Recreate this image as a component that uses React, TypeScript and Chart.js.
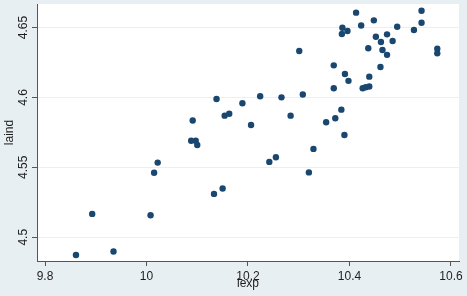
import React, { useEffect, useRef } from "react";
import { Chart, registerables } from "chart.js";

Chart.register(...registerables);

const lexp = [
  9.861, 9.893, 9.935, 10.008, 10.015, 10.022, 10.091, 10.088, 10.097, 10.1,
  10.133, 10.15, 10.154, 10.163, 10.189, 10.206, 10.242, 10.138, 10.224, 10.266,
  10.284, 10.301, 10.308, 10.329, 10.255, 10.32, 10.369, 10.391, 10.398, 10.369,
  10.384, 10.372, 10.354, 10.39, 10.413, 10.542, 10.386, 10.385, 10.396, 10.423,
  10.448, 10.494, 10.542, 10.527, 10.452, 10.474, 10.462, 10.485, 10.437, 10.465,
  10.474, 10.573, 10.573, 10.461, 10.439, 10.426, 10.432, 10.439,
];
const laind = [
  4.4873, 4.5167, 4.4898, 4.5157, 4.5461, 4.5534, 4.5835, 4.5691, 4.5691, 4.566,
  4.531, 4.5349, 4.587, 4.5884, 4.5959, 4.5803, 4.5539, 4.5989, 4.6009, 4.6001,
  4.587, 4.6333, 4.6021, 4.5632, 4.5572, 4.5464, 4.623, 4.6168, 4.6119, 4.6066,
  4.5913, 4.5852, 4.5823, 4.5732, 4.6607, 4.6621, 4.6499, 4.6454, 4.6476, 4.6515,
  4.6552, 4.6506, 4.6535, 4.6483, 4.6435, 4.6452, 4.6397, 4.6404, 4.6352, 4.634,
  4.6305, 4.6349, 4.6316, 4.6218, 4.6149, 4.6066, 4.6073, 4.6079,
];
const xTicks = [9.8, 10, 10.2, 10.4, 10.6];
const yTicks = [4.5, 4.55, 4.6, 4.65];
const xLabel = "lexp";
const yLabel = "laind";

const OUTER = "#e8eff2";
const GRID = "#e9f0f3";
const AXIS = "#555555";
const TEXT = "#1e1e1e";
const MARK = "#1a476f";
const FONT = "'Liberation Sans', Arial, sans-serif";

export default function App() {
  const ref = useRef<HTMLCanvasElement>(null);

  useEffect(() => {
    if (!ref.current) return;
    const bgPlugin = {
      id: "bgPlugin",
      beforeDraw(chart: any) {
        const { ctx, chartArea: a, width, height } = chart;
        ctx.save();
        ctx.fillStyle = OUTER;
        ctx.fillRect(0, 0, width, height);
        ctx.fillStyle = "#ffffff";
        ctx.fillRect(a.left, a.top, a.right - a.left, a.bottom - a.top);
        ctx.restore();
      },
    };

    const chart = new Chart(ref.current, {
      type: "scatter",
      data: {
        datasets: [
          {
            data: lexp.map((x, i) => ({ x, y: laind[i] })),
            backgroundColor: MARK,
            borderColor: MARK,
            borderWidth: 0,
            pointRadius: 3.2,
          },
        ],
      },
      options: {
        responsive: false,
        animation: false,
        devicePixelRatio: 1,
        layout: { padding: { top: 4, right: 8, left: 0, bottom: 0 } },
        plugins: { legend: { display: false }, tooltip: { enabled: false } },
        scales: {
          x: {
            type: "linear",
            min: 9.7842,
            max: 10.6158,
            afterBuildTicks: (s: any) => {
              s.ticks = xTicks.map((v) => ({ value: v }));
            },
            afterFit: (s: any) => {
              s.height = 35;
            },
            grid: {
              drawOnChartArea: false,
              drawTicks: true,
              tickLength: 5,
              tickColor: AXIS,
            },
            border: { color: AXIS, width: 1 },
            ticks: {
              autoSkip: false,
              maxRotation: 0,
              padding: 3,
              color: TEXT,
              font: { family: FONT, size: 12 },
              callback: (v: any) => String(v),
            },
            title: {
              display: true,
              text: xLabel,
              color: TEXT,
              font: { family: FONT, size: 12 },
              padding: { top: 0, bottom: 5 },
            },
          },
          y: {
            type: "linear",
            min: 4.483,
            max: 4.6669,
            afterBuildTicks: (s: any) => {
              s.ticks = yTicks.map((v) => ({ value: v }));
            },
            afterFit: (s: any) => {
              s.width = 37;
            },
            grid: {
              color: GRID,
              lineWidth: 1,
              drawTicks: true,
              tickLength: 5,
              tickColor: AXIS,
            },
            border: { color: AXIS, width: 1 },
            ticks: {
              autoSkip: false,
              minRotation: 90,
              maxRotation: 90,
              crossAlign: "center",
              padding: -3.5,
              color: TEXT,
              font: { family: FONT, size: 12 },
              callback: (v: any) => String(v),
            },
            title: {
              display: true,
              text: yLabel,
              color: TEXT,
              font: { family: FONT, size: 12 },
              padding: { top: 2, bottom: 0 },
            },
          },
        },
      },
      plugins: [bgPlugin],
    } as any);

    return () => chart.destroy();
  }, []);

  return (
    <div style={{ position: "absolute", left: 0, top: 0, width: 467, height: 296 }}>
      <canvas ref={ref} width={467} height={296} style={{ display: "block" }} />
    </div>
  );
}
